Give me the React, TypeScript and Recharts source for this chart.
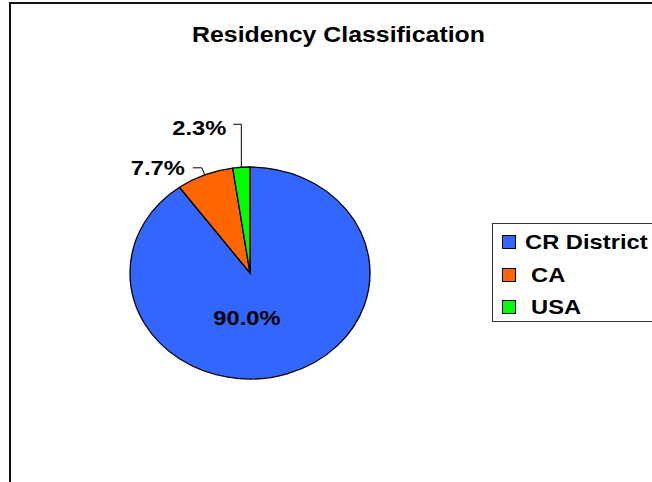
import React from 'react';
import { PieChart, Pie, Cell, Legend } from 'recharts';

const categories = ['CR District', 'CA', 'USA'];
const shares = [90.0, 7.7, 2.3];
const colors = ['#3366FF', '#FF6600', '#00FF00'];

const data = categories.map((name, i) => ({ name, value: shares[i], color: colors[i] }));

const CX = 250;
const CY = 273;
const RX = 120;
const RY = 106;
const STRETCH = 1.13;
const FONT = 'Arial, "Liberation Sans", sans-serif';

// Excel-like label placement per slice: leader elbow, leader end, text anchor
function renderLabel(props: any) {
    const { cx, cy, midAngle, percent, index } = props;
    const rad = (midAngle * Math.PI) / 180;
    const px = cx + RX * Math.cos(rad);
    const py = cy - RY * Math.sin(rad);
    const text = `${(percent * 100).toFixed(1)}%`;

    const drawText = (x: number, y: number, anchor: string) => (
        <text
            transform={`translate(${x},${y}) scale(${STRETCH},1)`}
            textAnchor={anchor}
            fontFamily={FONT}
            fontWeight="bold"
            fontSize={21}
            fill="#000"
        >
            {text}
        </text>
    );

    if (index === 0) {
        return <g key={`l-${index}`}>{drawText(cx - 3, cy + 51.5, 'middle')}</g>;
    }
    if (index === 1) {
        return (
            <g key={`l-${index}`}>
                <polyline
                    points={`${px},${py} ${px - 3},${py - 7} ${px - 12},${py - 7}`}
                    fill="none"
                    stroke="#000"
                    strokeWidth={1}
                />
                {drawText(px - 20, py + 0.5, 'end')}
            </g>
        );
    }
    return (
        <g key={`l-${index}`}>
            <polyline
                points={`${px},${py} ${px},${py - 43} ${px - 8},${py - 43}`}
                fill="none"
                stroke="#000"
                strokeWidth={1}
            />
            {drawText(px - 15, py - 32.5, 'end')}
        </g>
    );
}

function LegendBox(props: any) {
    // keep the legend in data order, not alphabetical
    const payload = [...(props.payload || [])].sort(
        (a: any, b: any) => categories.indexOf(a.value) - categories.indexOf(b.value)
    );
    return (
        <div
            style={{
                width: 200,
                height: 99,
                border: '1px solid #333',
                boxSizing: 'border-box',
                background: '#fff',
                paddingTop: 2,
            }}
        >
            {payload.map((entry: any, i: number) => (
                <div key={entry.value} style={{ display: 'flex', alignItems: 'center', height: 32.5 }}>
                    <span
                        style={{
                            display: 'inline-block',
                            width: 12,
                            height: 12,
                            marginLeft: 9,
                            background: entry.color,
                            border: '1px solid #000',
                        }}
                    />
                    <span
                        style={{
                            marginLeft: i === 0 ? 9 : 15,
                            fontFamily: FONT,
                            fontWeight: 'bold',
                            fontSize: 21,
                            color: '#000',
                            display: 'inline-block',
                            transform: `scaleX(${STRETCH})`,
                            transformOrigin: 'left center',
                            whiteSpace: 'nowrap',
                        }}
                    >
                        {entry.value}
                    </span>
                </div>
            ))}
        </div>
    );
}

export default function App() {
    return (
        <div
            style={{
                position: 'absolute',
                left: 0,
                top: 0,
                width: 652,
                height: 482,
                overflow: 'hidden',
                background: '#fff',
            }}
        >
            <style>{`
                .ellipse-pie .recharts-pie-sector {
                    transform-origin: ${CX}px ${CY}px;
                    transform: scaleY(${RY / RX});
                }
                .ellipse-pie .recharts-pie-sector path { vector-effect: non-scaling-stroke; }
            `}</style>
            <div
                style={{
                    position: 'absolute',
                    left: 9,
                    top: 2,
                    width: 700,
                    height: 520,
                    borderLeft: '2px solid #111',
                    borderTop: '2px solid #111',
                }}
            />
            <div className="ellipse-pie" style={{ position: 'absolute', left: 0, top: 0 }}>
                <PieChart width={652} height={482} margin={{ top: 0, right: 0, bottom: 0, left: 0 }}>
                    <Pie
                        data={data}
                        dataKey="value"
                        nameKey="name"
                        cx={CX}
                        cy={CY}
                        outerRadius={RX}
                        startAngle={90}
                        endAngle={-270}
                        stroke="#000"
                        strokeWidth={1.3}
                        label={renderLabel}
                        labelLine={false}
                        isAnimationActive={false}
                    >
                        {data.map((d) => (
                            <Cell key={d.name} fill={d.color} />
                        ))}
                    </Pie>
                    <Legend
                        content={<LegendBox />}
                        wrapperStyle={{ position: 'absolute', left: 492, top: 223, width: 200 }}
                    />
                </PieChart>
            </div>
            <svg
                width={652}
                height={60}
                style={{ position: 'absolute', left: 0, top: 0, pointerEvents: 'none' }}
            >
                <text
                    transform={`translate(338.5,42) scale(${STRETCH},1)`}
                    textAnchor="middle"
                    fontFamily={FONT}
                    fontWeight="bold"
                    fontSize={22}
                    fill="#000"
                >
                    Residency Classification
                </text>
            </svg>
        </div>
    );
}
